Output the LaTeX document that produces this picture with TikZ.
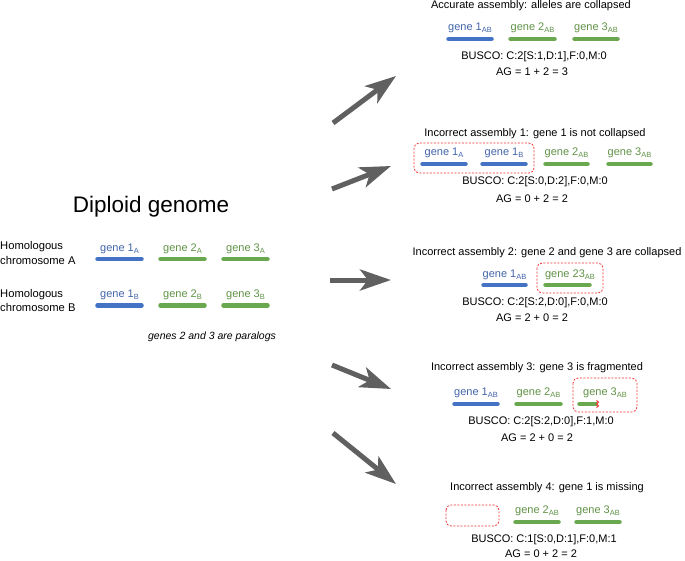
\documentclass[tikz,border=0pt]{standalone}
\usepackage{fontspec}
\setmainfont{Liberation Sans}
\usetikzlibrary{arrows.meta}
\definecolor{barblue}{RGB}{68,114,196}
\definecolor{bargreen}{RGB}{106,168,79}
\definecolor{txtblue}{RGB}{66,100,170}
\definecolor{txtgreen}{RGB}{96,146,70}
\definecolor{arrowgray}{RGB}{96,96,96}
\definecolor{boxred}{RGB}{240,50,50}
\newcommand\gs[1]{\raisebox{-0.35ex}{\fontsize{7.5}{8}\selectfont #1}}
\tikzset{
  txt/.style={font=\fontsize{11}{13}\selectfont, inner sep=0pt, text=black},
  glab/.style={font=\fontsize{11}{13}\selectfont, inner sep=0pt},
  bluelab/.style={glab, text=txtblue},
  greenlab/.style={glab, text=txtgreen},
  bluebar/.style={draw=barblue, line width=4.5pt, line cap=round},
  greenbar/.style={draw=bargreen, line width=4.5pt, line cap=round},
  redbox/.style={draw=boxred, line width=0.8pt, dash pattern=on 2pt off 1.5pt, rounded corners=5pt},
  bigarrow/.style={draw=arrowgray, line width=5pt, -{Stealth[length=31pt,width=21pt,inset=8pt]}, arrowgray},
}
\begin{document}
\begin{tikzpicture}[x=1pt,y=-1pt]
\useasboundingbox (0,0) rectangle (685,560);

% ---------- left: diploid genome ----------
\node[inner sep=0pt, font=\fontsize{22.5}{26}\selectfont] (title) at (151,207) {Diploid genome};
\node[txt, anchor=west, align=left, font=\fontsize{11.2}{14.5}\selectfont] (chrA) at (0,253) {Homologous\\chromosome A};
\node[txt, anchor=west, align=left, font=\fontsize{11.2}{14.5}\selectfont] (chrB) at (0,300.5) {Homologous\\chromosome B};

\node[bluelab]  (g1A) at (119.5,249) {gene 1\gs{A}};
\node[greenlab] (g2A) at (182.5,249) {gene 2\gs{A}};
\node[greenlab] (g3A) at (245.5,249) {gene 3\gs{A}};
\draw[bluebar]  (97.5,259) -- (141.5,259);
\draw[greenbar] (160.5,259) -- (204.5,259);
\draw[greenbar] (223.5,259) -- (267.5,259);

\node[bluelab]  (g1B) at (119.5,295) {gene 1\gs{B}};
\node[greenlab] (g2B) at (182.5,295) {gene 2\gs{B}};
\node[greenlab] (g3B) at (245.5,295) {gene 3\gs{B}};
\draw[bluebar]  (97.5,305.5) -- (141.5,305.5);
\draw[greenbar] (160.5,305.5) -- (204.5,305.5);
\draw[greenbar] (223.5,305.5) -- (267.5,305.5);

\node[txt, font=\fontsize{10.5}{12}\selectfont\itshape] (para) at (212,337) {genes 2 and 3 are paralogs};

% ---------- arrows ----------
\coordinate (a1s) at (333,123); \coordinate (a1e) at (396,76);
\coordinate (a2s) at (332,189); \coordinate (a2e) at (391,166);
\coordinate (a3s) at (330,280); \coordinate (a3e) at (391,280);
\coordinate (a4s) at (332,365); \coordinate (a4e) at (391,389);
\coordinate (a5s) at (333,433); \coordinate (a5e) at (396,484);
\draw[bigarrow] (a1s) -- (a1e);
\draw[bigarrow] (a2s) -- (a2e);
\draw[bigarrow] (a3s) -- (a3e);
\draw[bigarrow] (a4s) -- (a4e);
\draw[bigarrow] (a5s) -- (a5e);

% ---------- panel 1 ----------
\node[txt] (t1) at (531,6) {Accurate assembly: alleles are collapsed};
\node[bluelab]  (p1g1) at (470,28) {gene 1\gs{AB}};
\node[greenlab] (p1g2) at (532.5,28) {gene 2\gs{AB}};
\node[greenlab] (p1g3) at (596,28) {gene 3\gs{AB}};
\draw[bluebar]  (448.5,39) -- (491.5,39);
\draw[greenbar] (510.5,39) -- (554.5,39);
\draw[greenbar] (574.5,39) -- (617.5,39);
\node[txt] (b1) at (534,57) {BUSCO: C:2[S:1,D:1],F:0,M:0};
\node[txt] (ag1) at (532,72) {AG = 1 + 2 = 3};

% ---------- panel 2 ----------
\node[txt] (t2) at (535,134) {Incorrect assembly 1: gene 1 is not collapsed};
\draw[redbox] (414,143) rectangle (534,173);
\node[bluelab]  (p2g1a) at (444,153) {gene 1\gs{A}};
\node[bluelab]  (p2g1b) at (504,153) {gene 1\gs{B}};
\node[greenlab] (p2g2) at (566.5,153) {gene 2\gs{AB}};
\node[greenlab] (p2g3) at (629.5,153) {gene 3\gs{AB}};
\draw[bluebar]  (422.5,164) -- (465.5,164);
\draw[bluebar]  (482.5,164) -- (525.5,164);
\draw[greenbar] (545.5,164) -- (587.5,164);
\draw[greenbar] (608.5,164) -- (650.5,164);
\node[txt] (b2) at (535,182) {BUSCO: C:2[S:0,D:2],F:0,M:0};
\node[txt] (ag2) at (532,199) {AG = 0 + 2 = 2};

% ---------- panel 3 ----------
\node[txt] (t3) at (547,253) {Incorrect assembly 2: gene 2 and gene 3 are collapsed};
\draw[redbox] (537,263) rectangle (603,293);
\node[bluelab]  (p3g1) at (504.5,275) {gene 1\gs{AB}};
\node[greenlab] (p3g23) at (570,275) {gene 23\gs{AB}};
\draw[bluebar]  (483.5,285) -- (525.5,285);
\draw[greenbar] (545.5,285) -- (589.5,285);
\node[txt] (b3) at (535,303) {BUSCO: C:2[S:2,D:0],F:0,M:0};
\node[txt] (ag3) at (532,318) {AG = 2 + 0 = 2};

% ---------- panel 4 ----------
\node[txt] (t4) at (537,368) {Incorrect assembly 3: gene 3 is fragmented};
\draw[redbox] (573,378) rectangle (637,412);
\node[bluelab]  (p4g1) at (476,393) {gene 1\gs{AB}};
\node[greenlab] (p4g2) at (538.5,393) {gene 2\gs{AB}};
\node[greenlab] (p4g3) at (605,393) {gene 3\gs{AB}};
\draw[bluebar]  (454.5,404) -- (497.5,404);
\draw[greenbar] (516.5,404) -- (560.5,404);
\draw[draw=bargreen, line width=4.5pt, line cap=round] (579.5,404) -- (595,404);
\draw[draw=bargreen, line width=4.5pt] (590,404) -- (597,404);
\draw[boxred, line width=1pt] (596.5,400.5) -- (598.5,402.2) -- (596.5,404) -- (598.5,405.8) -- (596.5,407.5);
\node[txt] (b4) at (541,422) {BUSCO: C:2[S:2,D:0],F:1,M:0};
\node[txt] (ag4) at (537,438) {AG = 2 + 0 = 2};

% ---------- panel 5 ----------
\node[txt] (t5) at (547,488) {Incorrect assembly 4: gene 1 is missing};
\draw[redbox] (446,505) rectangle (499,526);
\node[greenlab] (p5g2) at (537,511) {gene 2\gs{AB}};
\node[greenlab] (p5g3) at (598,511) {gene 3\gs{AB}};
\draw[greenbar] (515.5,522) -- (558.5,522);
\draw[greenbar] (576.5,522) -- (619.5,522);
\node[txt] (b5) at (544,540) {BUSCO: C:1[S:0,D:1],F:0,M:1};
\node[txt] (ag5) at (541,554) {AG = 0 + 2 = 2};
\end{tikzpicture}
\end{document}
